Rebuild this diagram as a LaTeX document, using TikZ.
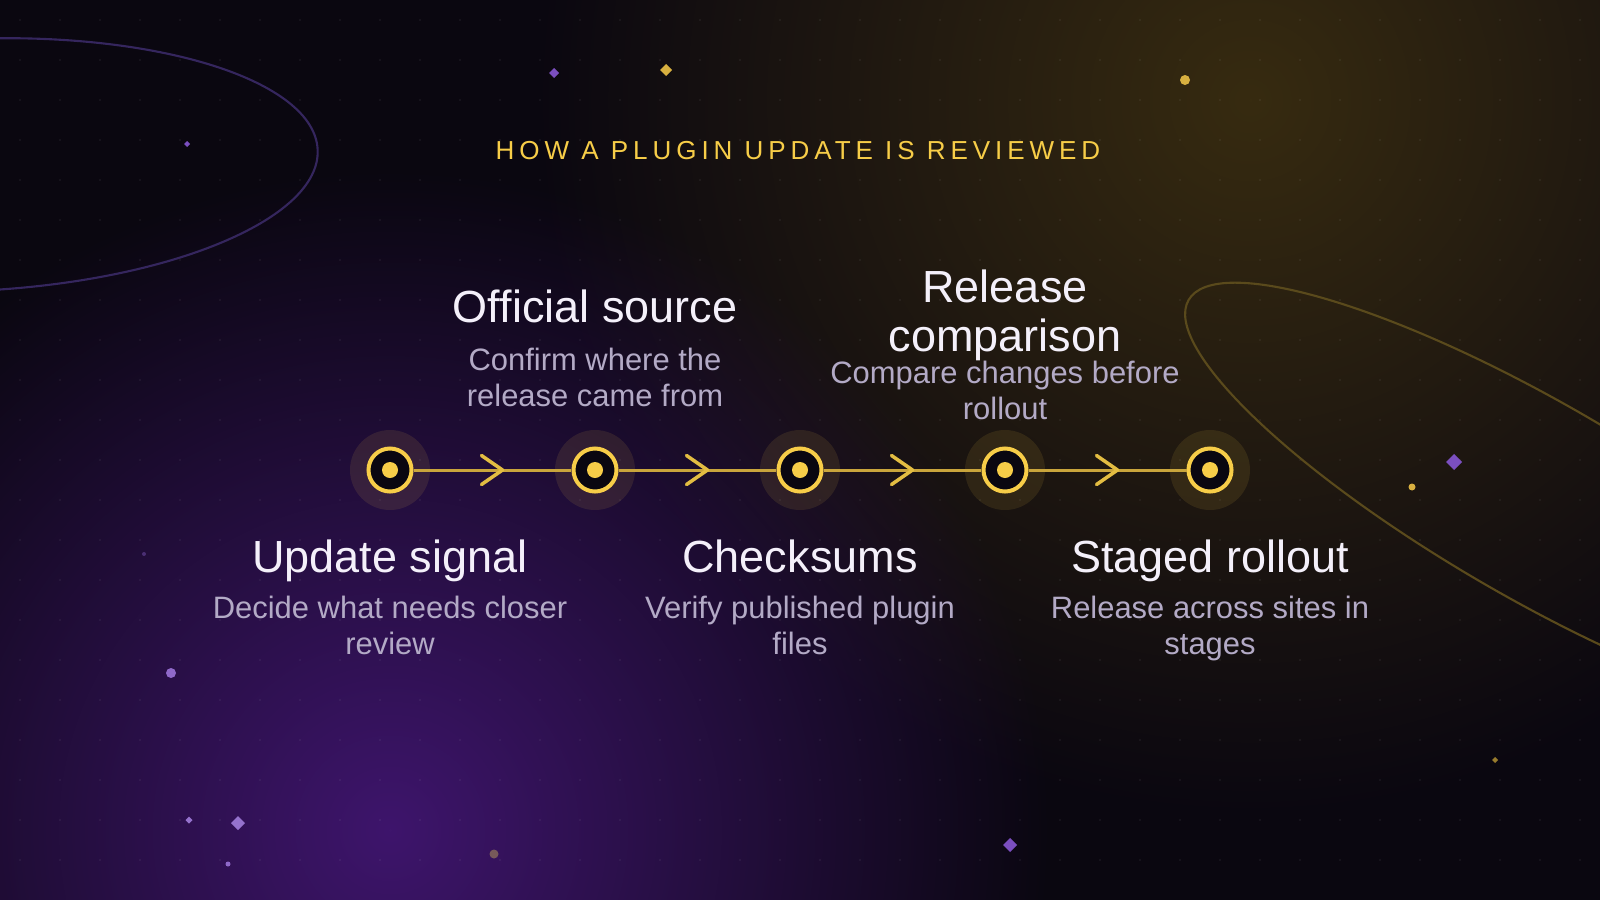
\documentclass[tikz,border=0pt]{standalone}
\usepackage{fontspec}
\setmainfont{Liberation Sans}
\newfontfamily\headfont[LetterSpace=19]{Liberation Sans}
\usetikzlibrary{fadings}

\definecolor{bgdark}{HTML}{0A0710}
\definecolor{glowpurple}{HTML}{3E156C}
\definecolor{glowgold}{HTML}{372B10}
\definecolor{gold}{HTML}{F7CD48}
\definecolor{linkgold}{HTML}{C9A53C}
\definecolor{titlewhite}{HTML}{F4F0FA}
\definecolor{desclav}{HTML}{B3AAC6}
\definecolor{orbitpurple}{HTML}{35265E}
\definecolor{orbitgold}{HTML}{5A4A1C}
\definecolor{sparkpurple}{HTML}{7B4FC0}
\definecolor{sparkgold}{HTML}{D8B040}
\tikzfading[name=glowfade, inner color=transparent!0, outer color=transparent!100]

\begin{document}
\begin{tikzpicture}[x=0.01cm, y=-0.01cm,
  stepring/.style={circle, draw=gold, line width=1.14pt, fill=bgdark, minimum size=0.43cm, inner sep=0pt},
  halo/.style={fill=gold, fill opacity=0.10},
  link/.style={draw=linkgold, line width=0.85pt},
  chevron/.style={draw=gold!92!black, line width=1pt, line cap=round, line join=round},
  steptitle/.style={text=titlewhite, font=\fontsize{12.8}{13.9}\selectfont, align=center, inner sep=0pt},
  stepdesc/.style={text=desclav, font=\fontsize{8.8}{9.96}\selectfont, align=center, inner sep=0pt},
  griddot/.style={fill=white, fill opacity=0.05}]

% background and glows
\fill[bgdark] (0,0) rectangle (1600,900);
\useasboundingbox (0,0) rectangle (1600,900);
\fill[glowgold, path fading=glowfade] (1250,100) circle (720);
\fill[glowpurple, path fading=glowfade] (390,830) circle (660);

% dot grid
\foreach \x in {20,60,...,1580}
  \foreach \y in {20,60,...,880}
    \fill[griddot] (\x,\y) circle (1.3);

% orbits
\draw[orbitpurple, line width=0.6pt, rotate around={2.5:(-30,165)}] (-30,165) ellipse [x radius=348, y radius=126];
\draw[orbitgold, line width=0.6pt, rotate around={-30:(1535,500)}] (1535,500) ellipse [x radius=400, y radius=98];

% sparkles
\foreach \x/\y/\h/\c in {554/73/5/sparkpurple, 187/144/3/sparkpurple, 189/820/3.5/sparkpurple!80!white,
    238/823/7/sparkpurple!80!white, 1010/845/7/sparkpurple, 1454/462/8/sparkpurple,
    666/70/6/sparkgold, 1495/760/3/sparkgold!70!black}
  \fill[\c] (\x,\y) +(0,-\h) -- +(\h,0) -- +(0,\h) -- +(-\h,0) -- cycle;
\foreach \x/\y/\r/\c in {1185/80/5/sparkgold, 1412/487/3.5/sparkgold, 171/673/5/sparkpurple!85!white,
    228/864/2.5/sparkpurple!85!white, 494/854/4.5/sparkgold!50!sparkpurple!70!black, 144/554/2/sparkpurple!60!black}
  \fill[\c] (\x,\y) circle (\r);

% title
\node[text=gold, font=\headfont\fontsize{7.4}{8}\selectfont] (head) at (798,151) {HOW A PLUGIN UPDATE IS REVIEWED};

% steps
\foreach \i/\x in {1/390,2/595,3/800,4/1005,5/1210} {
  \fill[halo] (\x,470) circle (40);
  \node[stepring] (s\i) at (\x,470) {};
  \fill[gold] (s\i) circle (8);
}
\foreach \a/\b in {1/2,2/3,3/4,4/5} {
  \draw[link] (s\a) -- (s\b) coordinate[midway] (m\a);
  \draw[chevron] ([shift={(-11,-14.5)}]m\a) -- ([shift={(10,0)}]m\a) -- ([shift={(-11,14.5)}]m\a);
}

% labels below (base = last line)
\node[steptitle, anchor=base] (t1) at (390,572) {Update signal};
\node[stepdesc, anchor=base] (d1) at (390,654) {Decide what needs closer\\review};
\node[steptitle, anchor=base] (t3) at (800,572) {Checksums};
\node[stepdesc, anchor=base] (d3) at (800,654) {Verify published plugin\\files};
\node[steptitle, anchor=base] (t5) at (1210,572) {Staged rollout};
\node[stepdesc, anchor=base] (d5) at (1210,654) {Release across sites in\\stages};

% labels above
\node[steptitle, anchor=base] (t2) at (595,322) {Official source};
\node[stepdesc, anchor=base] (d2) at (595,406) {Confirm where the\\release came from};
\node[steptitle, anchor=base] (t4) at (1005,351) {Release\\comparison};
\node[stepdesc, anchor=base] (d4) at (1005,419) {Compare changes before\\rollout};
\end{tikzpicture}
\end{document}
